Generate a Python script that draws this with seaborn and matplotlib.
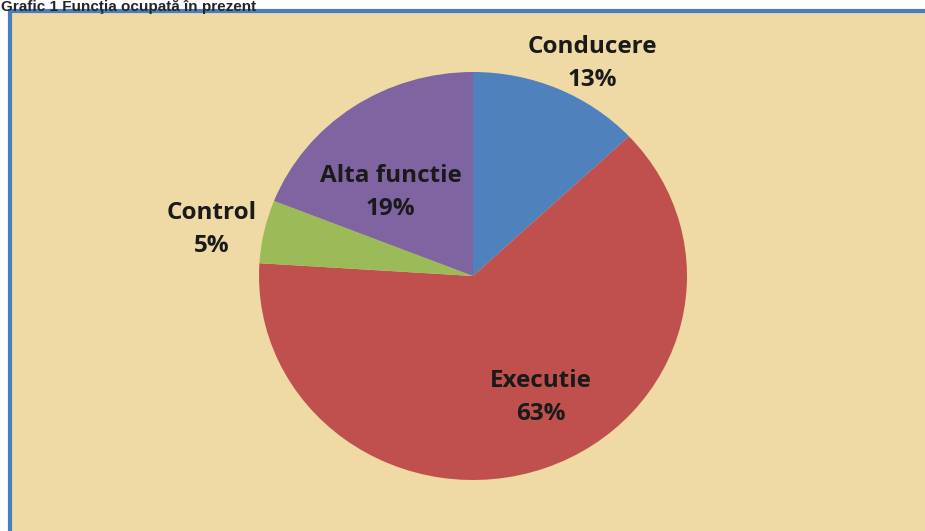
import seaborn as sns
import matplotlib
matplotlib.use('Agg')
import matplotlib.pyplot as plt
from matplotlib.patches import Rectangle

# Data
categories = ['Conducere', 'Executie', 'Control', 'Alta functie']
values = [13, 63, 5, 19]

# label placement (pie data coords)
label_xy = [(0.558, 1.04), (0.316, -0.595), (-1.223, 0.23), (-0.386, 0.41)]

sns.set_style('white')
plt.rcParams['font.family'] = ['Open Sans', 'DejaVu Sans']
colors = sns.color_palette(['#4F81BD', '#C0504D', '#9BBB59', '#8064A2'])

W, H = 925, 531
fig = plt.figure(figsize=(W / 100, H / 100), dpi=100)
fig.patch.set_facecolor('white')

# parchment-like panel with blue frame, in a background axes
bg = fig.add_axes([0, 0, 1, 1], zorder=0)
bg.set_xlim(0, W)
bg.set_ylim(H, 0)
bg.axis('off')
bg.add_patch(Rectangle((10, 11), W, H, facecolor='#EFD9A5', edgecolor='#4A7DBF', linewidth=3))

fig.text(0.001, 1.0, 'Grafic 1 Funcţia ocupată în prezent', ha='left', va='top',
         fontsize=11, fontweight='bold', family=['Liberation Sans', 'DejaVu Sans'])

# pie axes (slightly elliptical as in the reference)
cx, cy, rx, ry = 473, 276, 214, 204
ax = fig.add_axes([(cx - rx) / W, (H - cy - ry) / H, 2 * rx / W, 2 * ry / H], zorder=1)
wedges, _ = ax.pie(values, colors=colors, startangle=90, counterclock=False,
                   wedgeprops=dict(linewidth=0))
ax.set_aspect('auto')
ax.set_xlim(-1, 1)
ax.set_ylim(-1, 1)
ax.axis('off')

for (x, y), name, v in zip(label_xy, categories, values):
    ax.text(x, y, f'{name}\n{v}%', ha='center', va='center', fontsize=17.5,
            fontweight='bold', color='#1a1a1a', linespacing=1.5, clip_on=False)

fig.savefig('out.png', dpi=100)
plt.close(fig)
